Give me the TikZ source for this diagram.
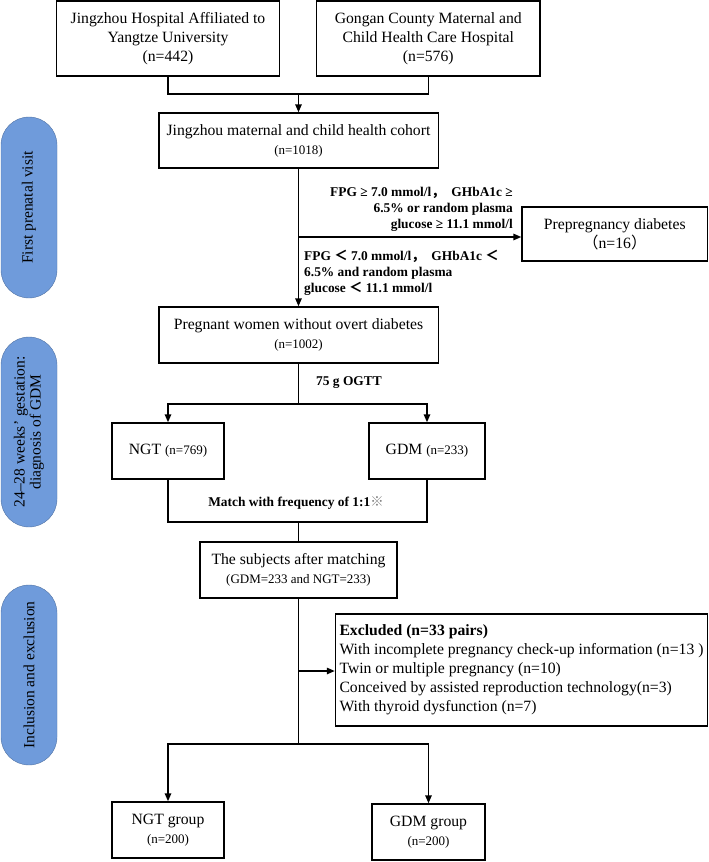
\documentclass[tikz,border=0pt]{standalone}
\usepackage{fontspec}
\setmainfont{Liberation Serif}
\newfontfamily\cjk{Noto Sans CJK SC}
\usetikzlibrary{arrows.meta}
\definecolor{pillblue}{HTML}{6F9BDB}
\tikzset{
  box/.style={draw, line width=1.5pt, align=center, inner sep=2pt,
    font=\fontsize{15.7}{19}\selectfont},
  pill/.style={fill=pillblue, draw=pillblue!75!black, line width=0.4pt,
    rounded corners=28pt, rotate=90, minimum height=56pt, align=center,
    inner sep=0pt, font=\fontsize{15.5}{16}\selectfont},
  cond/.style={inner sep=0pt, font=\bfseries\fontsize{13.4}{16}\selectfont},
  link/.style={line width=1.5pt},
}
\newcommand{\nsmall}[1]{{\fontsize{13}{15}\selectfont #1}}
\begin{document}
\begin{tikzpicture}[x=1pt,y=-1pt,>={Triangle[length=8pt,width=6.5pt]}]
  \useasboundingbox (0,0) rectangle (709,862);
  % stages
  \node[pill, minimum width=181pt] (p1) at (29,207.5) {First prenatal visit};
  \node[pill, minimum width=190pt] (p2) at (29,432) {24–28 weeks’ gestation:\\diagnosis of GDM};
  \node[pill, minimum width=180pt] (p3) at (29,675) {Inclusion and exclusion};
  % boxes
  \node[box, minimum width=223pt, minimum height=75pt] (h1) at (168,38.5) {Jingzhou Hospital Affiliated to\\Yangtze University\\(n=442)};
  \node[box, minimum width=223.5pt, minimum height=75pt] (h2) at (428.3,38.5) {Gongan County Maternal and\\Child Health Care Hospital\\(n=576)};
  \node[box, minimum width=279.5pt, minimum height=55pt] (coh) at (298.5,140.5) {Jingzhou maternal and child health cohort\\\nsmall{(n=1018)}};
  \node[box, minimum width=185.5pt, minimum height=54pt] (pre) at (614.8,234) {Prepregnancy diabetes\\{\cjk（}n=16{\cjk）}};
  \node[box, minimum width=279.5pt, minimum height=56pt] (preg) at (298.5,335) {Pregnant women without overt diabetes\\\nsmall{(n=1002)}};
  \node[box, minimum width=112pt, minimum height=56pt] (ngt) at (168,451) {NGT \nsmall{(n=769)}};
  \node[box, minimum width=116pt, minimum height=56pt] (gdm) at (427,451) {GDM \nsmall{(n=233)}};
  \node[box, minimum width=197pt, minimum height=56pt] (subj) at (298.5,570) {The subjects after matching\\\nsmall{(GDM=233 and NGT=233)}};
  \node[box, minimum width=372pt, minimum height=112pt, align=left] (excl) at (521.5,670) {\textbf{Excluded (n=33 pairs)}\\With incomplete pregnancy check-up information (n=13 )\\Twin or multiple pregnancy (n=10)\\Conceived by assisted reproduction technology(n=3)\\With thyroid dysfunction (n=7)};
  \node[box, minimum width=112pt, minimum height=56pt] (ngtg) at (168,830) {NGT group\\\nsmall{(n=200)}};
  \node[box, minimum width=113pt, minimum height=56pt] (gdmg) at (428.5,832) {GDM group\\\nsmall{(n=200)}};
  % labels
  \node[cond, align=right, anchor=east] (c1) at (513,209) {FPG ≥ 7.0 mmol/l{\cjk，}\ \ GHbA1c ≥\\6.5\% or random plasma\\glucose ≥ 11.1 mmol/l};
  \node[cond, align=left, anchor=west] (c2) at (304,273) {FPG {\cjk ＜} 7.0 mmol/l{\cjk，}\ \ GHbA1c {\cjk ＜}\\6.5\% and random plasma\\glucose {\cjk ＜} 11.1 mmol/l};
  \node[cond] (ogtt) at (349,383) {75 g OGTT};
  \node[cond] (mt) at (296,503) {Match with frequency of 1:1\textcolor{gray}{\mdseries\cjk ※}};
  % junctions
  \coordinate (j0) at (298.5,94);
  \coordinate (b1) at (298.5,237);
  \coordinate (j1) at (298.5,404);
  \coordinate (j2) at (298.5,522);
  \coordinate (b2) at (298.5,671);
  \coordinate (j3) at (298.5,744);
  \draw [link] (h1.south) |- (j0) -| (h2.south);
  \draw [link,->] (j0) -- (coh.north);
  \draw [link,->] (coh.south) -- (preg.north);
  \draw [link,->] (b1) -- (b1 -| pre.west);
  \draw [link] (preg.south) -- (j1);
  \draw [link,->] (j1) -| (ngt.north);
  \draw [link,->] (j1) -| (gdm.north);
  \draw [link] (ngt.south) |- (j2) -| (gdm.south);
  \draw [link] (j2) -- (subj.north);
  \draw [link] (subj.south) -- (j3);
  \draw [link,->] (b2) -- (b2 -| excl.west);
  \draw [link,->] (j3) -| (ngtg.north);
  \draw [link,->] (j3) -| (gdmg.north);
\end{tikzpicture}
\end{document}
